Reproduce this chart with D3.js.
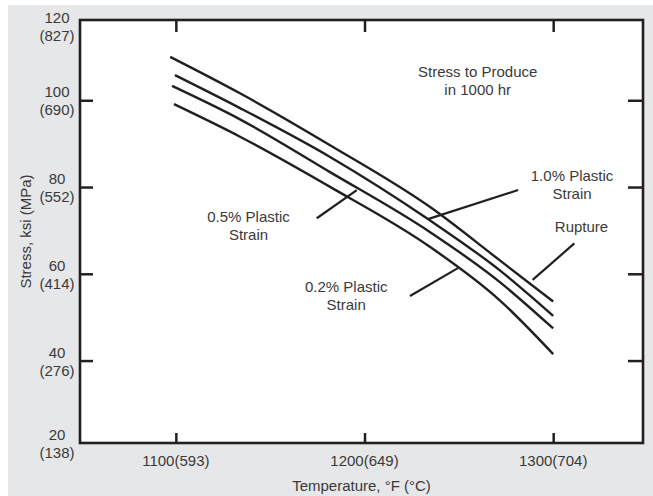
<!DOCTYPE html>
<html>
<head>
<meta charset="utf-8">
<script src="https://cdn.jsdelivr.net/npm/d3@7"></script>
<style>
  html, body { margin: 0; padding: 0; background: #ffffff; }
  svg { display: block; }
  text { font-family: "Liberation Sans", Arial, sans-serif; font-size: 15px; fill: #3a3a3a; }
</style>
</head>
<body>
<svg id="chart" width="653" height="496"></svg>
<script>
// Temperature axis (°F with °C in parentheses)
const tempTicksF = [1100, 1200, 1300];
const tempTicksC = [593, 649, 704];
// Stress axis (ksi with MPa in parentheses)
const stressTicksKsi = [20, 40, 60, 80, 100, 120];
const stressTicksMPa = [138, 276, 414, 552, 690, 827];

// Stress to produce each condition in 1000 hr, sampled along temperature (°F)
const ruptureTemp = [1097, 1134, 1181.5, 1234.4, 1271.4, 1300];
const ruptureKsi  = [110, 101.6, 89.7, 75.5, 63.2, 53.6];

const plastic10Temp = [1099.5, 1134, 1181.5, 1234.4, 1271.4, 1300];
const plastic10Ksi  = [105.8, 98.2, 87.0, 72.4, 60.9, 50.3];

const plastic05Temp = [1098, 1134, 1181.5, 1234.4, 1271.4, 1300];
const plastic05Ksi  = [103.3, 95.6, 83.5, 69.7, 58.2, 47.4];

const plastic02Temp = [1099, 1134, 1181.5, 1234.4, 1271.4, 1300];
const plastic02Ksi  = [99.1, 91.6, 80.1, 66.3, 54.0, 41.5];

const svg = d3.select("#chart");
const W = 653, H = 496;
const plotL = 80, plotR = 643, plotT = 20, plotB = 443;

// page backdrop
svg.append("rect").attr("x", 8).attr("y", 5).attr("width", W - 8).attr("height", H - 5)
  .attr("fill", "#e6e7e8");

const x = d3.scaleLinear().domain([1049.2, 1347.6]).range([plotL, plotR]);
const y = d3.scaleLinear().domain([21, 118.5]).range([plotB, plotT]);

// plot panel
svg.append("rect").attr("x", plotL).attr("y", plotT)
  .attr("width", plotR - plotL).attr("height", plotB - plotT)
  .attr("fill", "#ffffff");

const ink = "#231f20";

function styleAxis(g) {
  g.select(".domain").remove();
  g.selectAll(".tick line").attr("stroke", ink).attr("stroke-width", 2.5);
  g.selectAll(".tick text").remove();
}

const innerY = [40, 60, 80, 100];
svg.append("g").attr("transform", `translate(${plotL},0)`)
  .call(d3.axisLeft(y).tickValues(innerY).tickSize(-13)).call(styleAxis);
svg.append("g").attr("transform", `translate(${plotR},0)`)
  .call(d3.axisRight(y).tickValues(innerY).tickSize(-15)).call(styleAxis);
svg.append("g").attr("transform", `translate(0,${plotT})`)
  .call(d3.axisTop(x).tickValues(tempTicksF).tickSize(-12)).call(styleAxis);
svg.append("g").attr("transform", `translate(0,${plotB})`)
  .call(d3.axisBottom(x).tickValues(tempTicksF).tickSize(-10)).call(styleAxis);

// panel frame
svg.append("rect").attr("x", plotL).attr("y", plotT)
  .attr("width", plotR - plotL).attr("height", plotB - plotT)
  .attr("fill", "none").attr("stroke", ink).attr("stroke-width", 2.6);

// y tick labels: ksi over (MPa); end values sit at the frame corners
stressTicksKsi.forEach((v, i) => {
  const yy = Math.max(plotT + 6, Math.min(plotB, y(v)));
  const t = svg.append("text").attr("text-anchor", "middle");
  t.append("tspan").attr("x", 57).attr("y", yy - 3).text(v);
  t.append("tspan").attr("x", 57).attr("y", yy + 15).text(`(${stressTicksMPa[i]})`);
});

// x tick labels
tempTicksF.forEach((v, i) => {
  svg.append("text").attr("x", x(v)).attr("y", 466).attr("text-anchor", "middle")
    .text(`${v}(${tempTicksC[i]})`);
});

// axis titles
svg.append("text").attr("x", (plotL + plotR) / 2).attr("y", 491)
  .attr("text-anchor", "middle").text("Temperature, °F (°C)");
svg.append("text")
  .attr("transform", `translate(31,${(plotT + plotB) / 2}) rotate(-90)`)
  .attr("text-anchor", "middle").text("Stress, ksi (MPa)");

// curves
const series = [
  { temp: ruptureTemp, ksi: ruptureKsi },
  { temp: plastic10Temp, ksi: plastic10Ksi },
  { temp: plastic05Temp, ksi: plastic05Ksi },
  { temp: plastic02Temp, ksi: plastic02Ksi }
];
const line = d3.line()
  .x(d => x(d[0])).y(d => y(d[1]))
  .curve(d3.curveMonotoneX);
series.forEach(s => {
  svg.append("path")
    .attr("d", line(s.temp.map((t, i) => [t, s.ksi[i]])))
    .attr("fill", "none").attr("stroke", ink).attr("stroke-width", 2.4)
    .attr("stroke-linecap", "butt");
});

// callouts: label lines, anchor (°F, ksi) and leader from label to curve
const callouts = [
  { lines: ["1.0% Plastic", "Strain"], at: [1310, 81.4], leader: [[1281.4, 79.3], [1233.6, 72.6]] },
  { lines: ["Rupture"], at: [1315, 69.6], leader: [[1311.2, 67.0], [1289.1, 58.6]] },
  { lines: ["0.5% Plastic", "Strain"], at: [1138.5, 72.0], leader: [[1174.7, 72.8], [1195.9, 79.3]] },
  { lines: ["0.2% Plastic", "Strain"], at: [1190.3, 55.8], leader: [[1224.1, 54.9], [1249.5, 61.3]] },
  { lines: ["Stress to Produce", "in 1000 hr"], at: [1260, 105.4], leader: null }
];
callouts.forEach(c => {
  const t = svg.append("text").attr("text-anchor", "middle");
  c.lines.forEach((s, i) => {
    t.append("tspan").attr("x", x(c.at[0])).attr("y", y(c.at[1]) + i * 18).text(s);
  });
  if (c.leader) {
    svg.append("line")
      .attr("x1", x(c.leader[0][0])).attr("y1", y(c.leader[0][1]))
      .attr("x2", x(c.leader[1][0])).attr("y2", y(c.leader[1][1]))
      .attr("stroke", ink).attr("stroke-width", 2.2);
  }
});
</script>
</body>
</html>
